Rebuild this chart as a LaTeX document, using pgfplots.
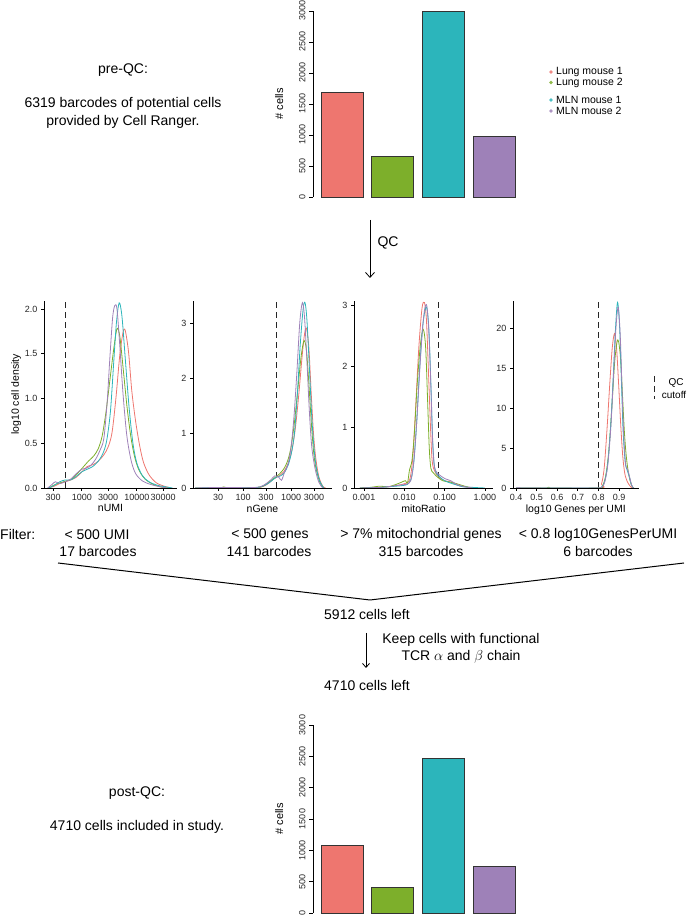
\documentclass[border=0pt]{standalone}
\usepackage{fontspec}
\setmainfont{Liberation Sans}
\usepackage{pgfplots}
\pgfplotsset{compat=1.18}
\usetikzlibrary{arrows.meta}
\definecolor{cR}{HTML}{EE766F}
\definecolor{cG}{HTML}{7DAF2B}
\definecolor{cT}{HTML}{2CB5BB}
\definecolor{cP}{HTML}{9E81B8}
\newcommand{\fs}[1]{\fontsize{#1}{#1}\selectfont}
\pgfplotsset{
  barax/.style={scale only axis, width=203.8pt, height=186pt,
    xmin=0.428, xmax=4.45, ymin=0, ymax=3000,
    axis x line=none, axis y line*=left, xtick=\empty,
    ytick={0,500,...,3000}, tick align=outside, major tick length=4pt,
    /pgf/number format/assume math mode=true,
    /pgf/number format/1000 sep={},
    yticklabel style={rotate=90, anchor=south, font=\fs{9}, black!85},
    ylabel={\# cells}, ylabel style={font=\fs{11}, yshift=9pt},
    axis line style={line width=0.8pt}, every tick/.style={line width=0.8pt, black},
    clip=false},
  bb/.style={ybar, bar shift=0pt, bar width=42pt, draw=black!80, line width=0.9pt, fill=#1},
  dens/.style={scale only axis, height=187pt, ymin=0,
    axis x line*=bottom, axis y line*=left,
    tick align=outside, major tick length=3pt,
    /pgf/number format/assume math mode=true,
    tick label style={font=\fs{9}, black!85},
    label style={font=\fs{10.5}},
    xlabel style={yshift=3pt},
    ylabel style={yshift=-3pt},
    axis line style={line width=0.7pt}, every tick/.style={line width=0.7pt, black}},
  dc/.style={#1, smooth, tension=0.5, line width=0.8pt, no markers},
  cut/.style={black!85, line width=0.8pt, dash pattern=on 6pt off 4pt, no markers},
}
\begin{document}
\begin{tikzpicture}[x=1pt,y=1pt]
\useasboundingbox (0,0) rectangle (688,915);

% ---------------- top bar chart ----------------
\begin{axis}[barax, at={(313pt,718pt)}, anchor=south west]
\addplot[bb=cR] coordinates {(1,1690)};
\addplot[bb=cG] coordinates {(2,660)};
\addplot[bb=cT] coordinates {(3,3000)};
\addplot[bb=cP] coordinates {(4,969)};
\end{axis}

% legend
\fill[cR!85] (551,843) circle (1.8);
\fill[cG!85] (551,832.5) circle (1.8);
\fill[cT!85] (551,815) circle (1.8);
\fill[cP!85] (551,804) circle (1.8);
\node[anchor=west, font=\fs{10.5}, inner sep=0] at (556,843) {Lung mouse 1};
\node[anchor=west, font=\fs{10.5}, inner sep=0] at (556,832.5) {Lung mouse 2};
\node[anchor=west, font=\fs{10.5}, inner sep=0] at (556,815) {MLN mouse 1};
\node[anchor=west, font=\fs{10.5}, inner sep=0] at (556,804) {MLN mouse 2};

% pre-QC text
\node[font=\fs{14}] at (123,845) {pre-QC:};
\node[font=\fs{14}] at (123,811) {6319 barcodes of potential cells};
\node[font=\fs{14}] at (123,793) {provided by Cell Ranger.};

% QC arrow
\draw[line width=0.8pt, -{Straight Barb[length=5pt,width=9pt]}] (370,695) -- (370,637);
\node[anchor=west, font=\fs{14}] at (374,672) {QC};

% ---------------- density panels ----------------
\begin{axis}[dens, at={(44pt,427pt)}, anchor=south west, width=133pt,
  xmin=2.313, xmax=4.731, ymax=2.09,
  xtick={2.477,3,3.477,4,4.477}, xticklabels={300,1000,3000,10000,30000},
  ytick={0,0.5,1,1.5,2},
  yticklabel style={/pgf/number format/.cd, fixed, fixed zerofill, precision=1},
  xlabel={nUMI}, ylabel={log10 cell density}]
\addplot[cut] coordinates {(2.699,0) (2.699,2.09)};
\addplot[dc=cR] coordinates {(2.40,0)(2.50,0.02)(2.60,0.05)(2.70,0.07)(2.80,0.09)(2.90,0.12)(3.00,0.18)(3.10,0.24)(3.20,0.26)(3.30,0.30)(3.40,0.37)(3.48,0.46)(3.55,0.62)(3.62,1.00)(3.69,1.48)(3.75,1.74)(3.79,1.76)(3.85,1.52)(3.91,1.08)(3.98,0.74)(4.05,0.48)(4.12,0.29)(4.22,0.15)(4.35,0.06)(4.50,0.02)(4.62,0)};
\addplot[dc=cG] coordinates {(2.40,0)(2.52,0.04)(2.62,0.06)(2.72,0.08)(2.82,0.10)(2.92,0.16)(3.02,0.23)(3.12,0.30)(3.22,0.36)(3.30,0.44)(3.37,0.58)(3.44,0.85)(3.51,1.20)(3.58,1.55)(3.64,1.78)(3.69,1.70)(3.75,1.35)(3.82,0.92)(3.89,0.58)(3.96,0.35)(4.04,0.20)(4.15,0.10)(4.30,0.04)(4.45,0.01)(4.58,0)};
\addplot[dc=cT] coordinates {(2.40,0)(2.50,0.03)(2.60,0.07)(2.70,0.09)(2.80,0.09)(2.90,0.13)(3.00,0.18)(3.10,0.21)(3.20,0.24)(3.30,0.30)(3.38,0.38)(3.45,0.52)(3.52,0.85)(3.58,1.40)(3.63,1.85)(3.68,2.07)(3.73,1.92)(3.79,1.45)(3.86,0.90)(3.93,0.50)(4.00,0.28)(4.10,0.14)(4.22,0.07)(4.38,0.03)(4.55,0.01)(4.65,0)};
\addplot[dc=cP] coordinates {(2.38,0)(2.46,0.04)(2.52,0.07)(2.60,0.05)(2.70,0.07)(2.80,0.10)(2.90,0.16)(3.00,0.21)(3.08,0.22)(3.16,0.25)(3.25,0.32)(3.33,0.42)(3.40,0.55)(3.46,0.95)(3.51,1.45)(3.56,1.90)(3.60,2.04)(3.64,2.00)(3.69,1.60)(3.75,1.05)(3.82,0.58)(3.90,0.30)(3.98,0.16)(4.10,0.08)(4.25,0.04)(4.45,0.01)(4.55,0)};
\end{axis}

\begin{axis}[dens, at={(193pt,427pt)}, anchor=south west, width=139pt,
  xmin=0.956, xmax=3.852, ymax=3.4,
  xtick={1.477,2,2.477,3,3.477}, xticklabels={30,100,300,1000,3000},
  ytick={0,1,2,3}, xlabel={nGene}]
\addplot[cut] coordinates {(2.699,0) (2.699,3.4)};
\addplot[dc=cR] coordinates {(1.0,0)(1.8,0.005)(2.3,0.01)(2.45,0.04)(2.55,0.10)(2.65,0.17)(2.75,0.22)(2.85,0.30)(2.94,0.45)(3.02,0.70)(3.09,1.10)(3.16,1.70)(3.23,2.40)(3.28,2.80)(3.32,2.90)(3.37,2.55)(3.42,1.70)(3.47,0.95)(3.52,0.50)(3.58,0.20)(3.66,0.03)(3.72,0)};
\addplot[dc=cG] coordinates {(1.0,0)(1.5,0.005)(1.6,0.02)(1.7,0.005)(2.3,0.01)(2.45,0.05)(2.55,0.12)(2.65,0.18)(2.75,0.25)(2.85,0.35)(2.93,0.50)(3.00,0.75)(3.07,1.20)(3.14,1.80)(3.21,2.40)(3.27,2.68)(3.32,2.50)(3.37,1.90)(3.42,1.20)(3.47,0.65)(3.52,0.35)(3.60,0.10)(3.68,0)};
\addplot[dc=cT] coordinates {(1.00,0)(1.50,0.005)(2.00,0.005)(2.30,0.01)(2.45,0.05)(2.55,0.10)(2.62,0.15)(2.70,0.20)(2.78,0.22)(2.86,0.28)(2.94,0.42)(3.01,0.65)(3.07,1.00)(3.13,1.70)(3.19,2.60)(3.25,3.25)(3.29,3.37)(3.33,3.05)(3.38,2.20)(3.43,1.30)(3.48,0.70)(3.53,0.35)(3.60,0.12)(3.68,0)};
\addplot[dc=cP] coordinates {(1.0,0)(1.5,0.01)(1.8,0.01)(2.1,0.005)(2.35,0.02)(2.48,0.08)(2.58,0.15)(2.66,0.22)(2.74,0.20)(2.80,0.14)(2.86,0.28)(2.94,0.45)(3.00,0.75)(3.06,1.30)(3.12,2.10)(3.18,3.00)(3.235,3.37)(3.28,3.10)(3.33,2.30)(3.38,1.40)(3.43,0.75)(3.50,0.35)(3.58,0.10)(3.66,0)};
\end{axis}

\begin{axis}[dens, at={(354pt,427pt)}, anchor=south west, width=139pt,
  xmin=-3.248, xmax=0.201, ymax=3.066,
  xtick={-3,-2,-1,0}, xticklabels={0.001,0.010,0.100,1.000},
  ytick={0,1,2,3}, xlabel={mitoRatio}]
\addplot[cut] coordinates {(-1.155,0) (-1.155,3.066)};
\addplot[dc=cR] coordinates {(-3.10,0)(-2.70,0.01)(-2.40,0.02)(-2.20,0.04)(-2.05,0.06)(-1.95,0.08)(-1.86,0.15)(-1.79,0.50)(-1.72,1.30)(-1.64,2.30)(-1.56,2.95)(-1.50,3.04)(-1.45,2.75)(-1.40,1.90)(-1.35,1.00)(-1.31,0.45)(-1.25,0.28)(-1.15,0.18)(-1.00,0.12)(-0.85,0.10)(-0.70,0.05)(-0.50,0.02)(-0.20,0)};
\addplot[dc=cG] coordinates {(-3.10,0)(-2.85,0.01)(-2.60,0.03)(-2.40,0.02)(-2.20,0.06)(-2.05,0.10)(-1.97,0.12)(-1.92,0.08)(-1.87,0.30)(-1.81,0.45)(-1.75,0.90)(-1.68,1.70)(-1.60,2.35)(-1.53,2.60)(-1.47,2.30)(-1.42,1.40)(-1.38,0.65)(-1.34,0.32)(-1.28,0.25)(-1.18,0.18)(-1.05,0.12)(-0.90,0.10)(-0.75,0.08)(-0.60,0.05)(-0.45,0.02)(-0.30,0)};
\addplot[dc=cT] coordinates {(-3.10,0)(-2.70,0.005)(-2.40,0.02)(-2.20,0.03)(-2.05,0.04)(-1.92,0.06)(-1.83,0.15)(-1.76,0.45)(-1.69,1.10)(-1.62,1.95)(-1.55,2.60)(-1.49,2.90)(-1.44,2.95)(-1.39,2.60)(-1.34,1.70)(-1.30,0.85)(-1.26,0.40)(-1.21,0.25)(-1.12,0.18)(-1.00,0.12)(-0.85,0.08)(-0.70,0.05)(-0.55,0.02)(-0.30,0.01)(0.00,0)};
\addplot[dc=cP] coordinates {(-3.10,0)(-2.60,0.01)(-2.30,0.03)(-2.10,0.05)(-1.95,0.06)(-1.84,0.12)(-1.77,0.40)(-1.70,1.00)(-1.62,1.90)(-1.55,2.60)(-1.49,2.95)(-1.44,2.98)(-1.39,2.55)(-1.34,1.65)(-1.30,0.80)(-1.26,0.38)(-1.20,0.26)(-1.10,0.20)(-0.98,0.15)(-0.85,0.12)(-0.70,0.06)(-0.50,0.02)(-0.30,0)};
\end{axis}

\begin{axis}[dens, at={(513pt,427pt)}, anchor=south west, width=125.6pt,
  xmin=0.3854, xmax=0.995, ymax=23.375,
  xtick={0.4,0.5,0.6,0.7,0.8,0.9}, xticklabels={0.4,0.5,0.6,0.7,0.8,0.9},
  ytick={0,5,10,15,20}, xlabel={log10 Genes per UMI}]
\addplot[cut] coordinates {(0.8,0) (0.8,23.375)};
\addplot[dc=cR] coordinates {(0.40,0)(0.80,0)(0.815,0.5)(0.828,2.5)(0.842,7.5)(0.855,13)(0.867,17.5)(0.878,19.3)(0.888,17.5)(0.898,13)(0.908,8)(0.918,4)(0.928,1.8)(0.94,0.8)(0.952,0.3)(0.962,0)};
\addplot[dc=cG] coordinates {(0.40,0)(0.55,0)(0.56,0.1)(0.57,0)(0.80,0)(0.82,0.3)(0.835,1.5)(0.85,4.5)(0.865,10)(0.878,15.5)(0.89,18.2)(0.898,18.3)(0.908,16)(0.917,11.5)(0.926,7)(0.935,4)(0.945,2)(0.955,0.8)(0.965,0.1)(0.972,0)};
\addplot[dc=cT] coordinates {(0.40,0)(0.78,0)(0.815,0.1)(0.83,0.8)(0.845,3)(0.86,8)(0.872,14)(0.883,20)(0.893,23.2)(0.903,20)(0.912,13)(0.92,7)(0.93,3.2)(0.94,2.2)(0.95,1.4)(0.96,0.4)(0.97,0)};
\addplot[dc=cP] coordinates {(0.40,0)(0.42,0.05)(0.44,0)(0.78,0)(0.815,0.1)(0.83,0.7)(0.845,2.8)(0.86,7.5)(0.873,14)(0.885,20)(0.896,22.6)(0.906,19)(0.915,12)(0.923,6.5)(0.932,3.0)(0.942,2.3)(0.952,1.3)(0.962,0.3)(0.97,0)};
\end{axis}

% QC cutoff key
\draw[black!85, line width=0.8pt, dash pattern=on 6pt off 4pt] (654,539) -- (654,516);
\node[font=\fs{10}] at (676,532) {QC};
\node[font=\fs{10}] at (674,520) {cutoff};

% ---------------- filter row ----------------
\node[anchor=west, font=\fs{14}, inner sep=0] at (0,380) {Filter:};
\node[font=\fs{14}] at (97,380) {< 500 UMI};
\node[font=\fs{14}] at (98,363) {17 barcodes};
\node[font=\fs{14}] at (270,380) {< 500 genes};
\node[font=\fs{14}] at (269,363) {141 barcodes};
\node[font=\fs{14}] at (421,380) {> 7\% mitochondrial genes};
\node[font=\fs{14}] at (421,363) {315 barcodes};
\node[font=\fs{14}] at (598,380) {< 0.8 log10GenesPerUMI};
\node[font=\fs{14}] at (598,363) {6 barcodes};

\draw[line width=1pt] (58,352) -- (370,315) -- (684,352);
\node[font=\fs{14}] at (367,300) {5912 cells left};
\draw[line width=0.8pt, -{Straight Barb[length=4pt,width=7pt]}] (366,282) -- (366,247);
\node[font=\fs{14}] at (461,275) {Keep cells with functional};
\node[font=\fs{14}] at (461,258) {TCR $\alpha$ and $\beta$ chain};
\node[font=\fs{14}] at (367,230) {4710 cells left};

% ---------------- bottom bar chart ----------------
\begin{axis}[barax, height=188pt, at={(313pt,2pt)}, anchor=south west]
\addplot[bb=cR] coordinates {(1,1080)};
\addplot[bb=cG] coordinates {(2,410)};
\addplot[bb=cT] coordinates {(3,2470)};
\addplot[bb=cP] coordinates {(4,750)};
\end{axis}
\node[font=\fs{14}] at (137,122) {post-QC:};
\node[font=\fs{14}] at (137,88) {4710 cells included in study.};
\end{tikzpicture}
\end{document}
